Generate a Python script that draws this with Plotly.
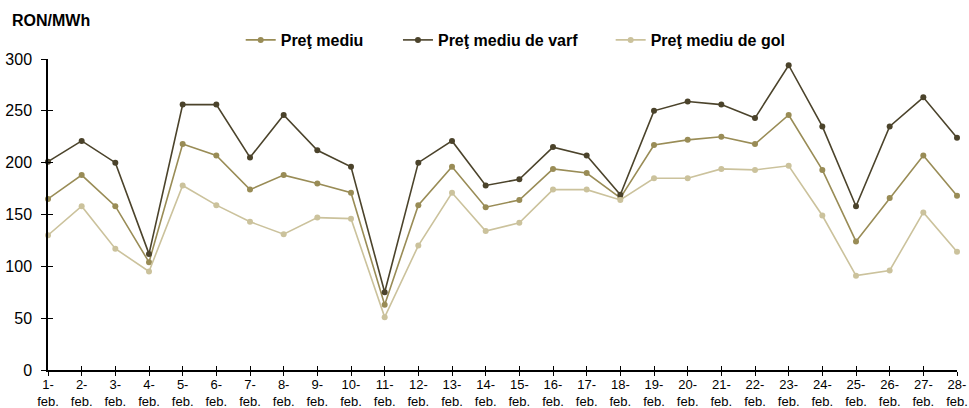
import plotly.graph_objects as go

days = [f"{i}-<br>feb." for i in range(1, 29)]
pret_mediu = [165, 188, 158, 104, 218, 207, 174, 188, 180, 171, 63, 159, 196, 157, 164, 194,
              190, 166, 217, 222, 225, 218, 246, 193, 124, 166, 207, 168]
pret_varf = [201, 221, 200, 112, 256, 256, 205, 246, 212, 196, 75, 200, 221, 178, 184, 215,
             207, 169, 250, 259, 256, 243, 294, 235, 158, 235, 263, 224]
pret_gol = [130, 158, 117, 95, 178, 159, 143, 131, 147, 146, 51, 120, 171, 134, 142, 174,
            174, 164, 185, 185, 194, 193, 197, 149, 91, 96, 152, 114]

series_names = ["Preţ mediu", "Preţ mediu de varf", "Preţ mediu de gol"]
series_vals = [pret_mediu, pret_varf, pret_gol]
colors = ["#998c56", "#4b432b", "#cbc29c"]
legend_ids = ["legend", "legend2", "legend3"]
legend_x = [0.212, 0.385, 0.619]

FONT = "Liberation Sans, Arial, sans-serif"

fig = go.Figure()
for name, vals, c, lg in zip(series_names, series_vals, colors, legend_ids):
    fig.add_trace(go.Scatter(
        x=days, y=vals, name=f"<b>{name}</b>", mode="lines+markers",
        line=dict(color=c, width=1.6),
        marker=dict(color=c, size=6),
        cliponaxis=False, legend=lg,
    ))

# invisible trace for overlay axes (gives crossing tick marks)
fig.add_trace(go.Scatter(x=[0], y=[0], xaxis="x2", yaxis="y2", mode="markers",
                         marker=dict(opacity=0), showlegend=False, hoverinfo="skip"))

W, H = 969, 408
legend_common = dict(orientation="h", yref="container", y=1 - 40 / H, xanchor="left",
                     yanchor="middle", font=dict(family=FONT, size=16, color="#000"),
                     bgcolor="rgba(0,0,0,0)", borderwidth=0)

fig.update_layout(
    width=W, height=H,
    margin=dict(l=48, r=12, t=59, b=38, autoexpand=False),
    paper_bgcolor="white", plot_bgcolor="white",
    font=dict(family=FONT, size=13, color="#000"),
    showlegend=True,
    legend=dict(x=legend_x[0], **legend_common),
    legend2=dict(x=legend_x[1], **legend_common),
    legend3=dict(x=legend_x[2], **legend_common),
    xaxis=dict(type="category", range=[0, 27], showgrid=False, zeroline=False,
               showline=True, linecolor="#000", linewidth=1.5,
               ticks="outside", ticklen=4, tickcolor="#000", tickwidth=1.3,
               tickfont=dict(family=FONT, size=13, color="#000"),
               ticklabelstandoff=-2, automargin=False, fixedrange=True),
    yaxis=dict(range=[0, 300], dtick=50, showgrid=False, zeroline=False,
               showline=True, linecolor="#000", linewidth=1.5,
               ticks="outside", ticklen=5, tickcolor="#000", tickwidth=1.3,
               tickfont=dict(family=FONT, size=16, color="#000"),
               ticklabelstandoff=6, automargin=False, fixedrange=True),
    xaxis2=dict(overlaying="x", anchor="y2", range=[0, 27], tickmode="linear", tick0=0, dtick=1,
                ticks="inside", ticklen=4, tickcolor="#000", tickwidth=1.3,
                showticklabels=False, showgrid=False, zeroline=False, showline=False,
                fixedrange=True),
    yaxis2=dict(overlaying="y", anchor="x2", range=[0, 300], tickmode="linear", tick0=0, dtick=50,
                ticks="inside", ticklen=5, tickcolor="#000", tickwidth=1.3,
                showticklabels=False, showgrid=False, zeroline=False, showline=False,
                fixedrange=True),
    annotations=[dict(text="<b>RON/MWh</b>", xref="paper", yref="paper", x=-0.0418, y=1.125,
                      xanchor="left", yanchor="middle", showarrow=False,
                      font=dict(family=FONT, size=16, color="#000"))],
)

fig.write_html(
    "out.html",
    config={"displayModeBar": False},
    post_script="document.body.style.margin='0';document.body.style.overflow='hidden';",
)
